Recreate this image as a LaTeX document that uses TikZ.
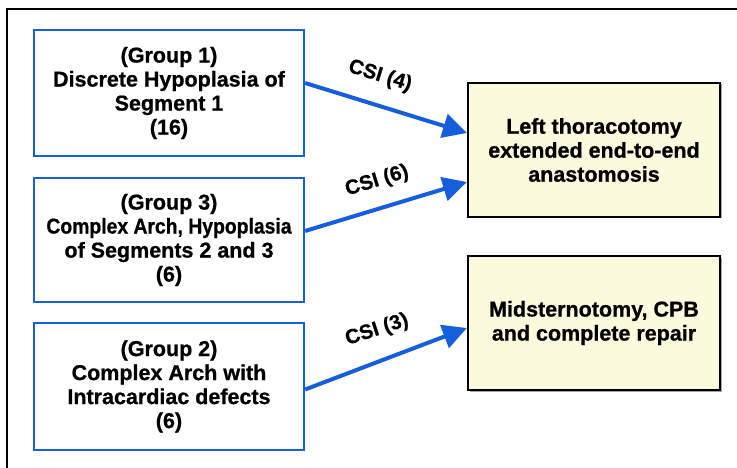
\documentclass[tikz,border=0pt]{standalone}
\usepackage{fontspec}
\setmainfont{Liberation Sans}[BoldFeatures={FakeBold=0.8}]
\usetikzlibrary{arrows.meta,shadows}
\definecolor{bl}{RGB}{22,94,219}
\definecolor{cream}{RGB}{252,250,220}
\begin{document}
\begin{tikzpicture}[x=1pt,y=-1pt,
  txt/.style={font=\fontsize{21.5}{24}\selectfont\bfseries},
  grp/.style={txt, draw=bl, line width=2.2pt, minimum width=270pt, inner sep=0pt, align=center},
  res/.style={txt, draw=black, line width=2.2pt, fill=cream, minimum width=252pt, minimum height=134pt, inner sep=0pt, align=center,
    drop shadow={shadow xshift=1.5pt, shadow yshift=-1.5pt, fill=black!35, opacity=1}},
  conn/.style={draw=bl, line width=4pt, -{Triangle[length=24pt,width=24pt]}},
  lab/.style={font=\fontsize{20.5}{22}\selectfont\bfseries, inner sep=0pt}]
\useasboundingbox (0,0) rectangle (737,468);
\draw[line width=2pt] (7,468) -- (7,9) -- (737,9);

\node[grp, minimum height=126pt] (g1) at (169,93) {(Group 1)\\Discrete Hypoplasia of\\Segment 1\\(16)};
\node[grp, minimum height=124pt] (g3) at (169,240) {(Group 3)\\\scalebox{0.9}[1]{Complex Arch, Hypoplasia}\\of Segments 2 and 3\\(6)};
\node[grp, minimum height=127pt] (g2) at (169,386.5) {(Group 2)\\Complex Arch with\\Intracardiac defects\\(6)};

\node[res] (r1) at (594,150) {Left thoracotomy\\extended end-to-end\\anastomosis};
\node[res] (r2) at (594,323) {Midsternotomy, CPB\\and complete repair};

\draw[conn] ([yshift=10pt]g1.east) -- ([yshift=17pt]r1.west);
\draw[conn] ([yshift=9pt]g3.east) -- ([yshift=-32pt]r1.west);
\draw[conn] ([yshift=-3pt]g2.east) -- ([yshift=-5pt]r2.west);

\node[lab, rotate=-17] (l1) at (380,76) {CSI (4)};
\node[lab, rotate=17] (l2) at (377,181) {CSI (6)};
\node[lab, rotate=18] (l3) at (377,330) {CSI (3)};
\end{tikzpicture}
\end{document}
